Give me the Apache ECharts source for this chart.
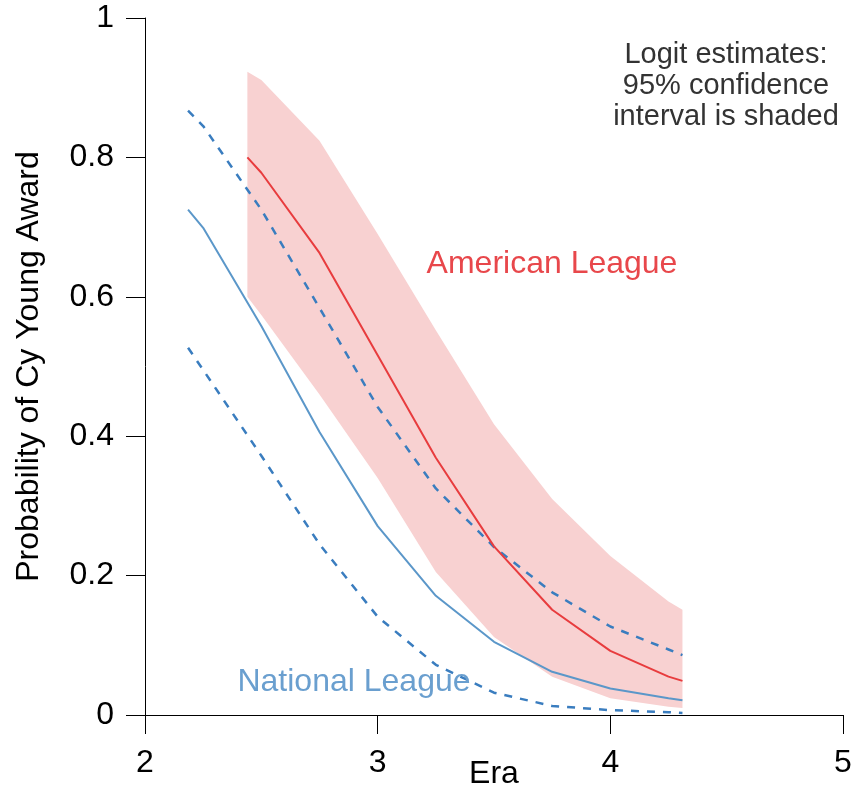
<!DOCTYPE html>
<html lang="en">
<head>
    <meta charset="UTF-8">
    <title>Cy Young Award probability by era</title>
    <script src="https://cdn.jsdelivr.net/npm/echarts@6/dist/echarts.min.js"></script>
    <style>
        html, body { margin: 0; padding: 0; background: #fff; }
        #chart { width: 854px; height: 790px; }
    </style>
</head>
<body>
<div id="chart"></div>

<script>
    // era values where the estimates were computed
    const nlEra = [2.185, 2.25, 2.5, 2.75, 3.0, 3.25, 3.5, 3.75, 4.0, 4.25, 4.31];
    const alEra = [2.44, 2.5, 2.75, 3.0, 3.25, 3.5, 3.75, 4.0, 4.25, 4.31];

    // National League: estimate + dashed bounds
    const nlMid = [0.725, 0.699, 0.558, 0.406, 0.271, 0.171, 0.105, 0.062, 0.038, 0.024, 0.021];
    const nlUpper = [0.867, 0.845, 0.725, 0.584, 0.442, 0.325, 0.241, 0.176, 0.127, 0.094, 0.086];
    const nlLower = [0.527, 0.495, 0.372, 0.245, 0.141, 0.072, 0.032, 0.013, 0.007, 0.004, 0.003];

    // American League: estimate + shaded band
    const alMid = [0.800, 0.778, 0.663, 0.516, 0.369, 0.242, 0.151, 0.092, 0.055, 0.049];
    const alUpper = [0.923, 0.911, 0.824, 0.690, 0.552, 0.417, 0.310, 0.228, 0.163, 0.151];
    const alLower = [0.600, 0.574, 0.460, 0.340, 0.205, 0.112, 0.055, 0.024, 0.012, 0.010];

    const xTicks = [2, 3, 4, 5];
    const yTicks = [0, 0.2, 0.4, 0.6, 0.8, 1];

    const font = "'Liberation Sans', Arial, sans-serif";

    function pairs(xs, ys) {
        return xs.map((x, i) => [x, ys[i]]);
    }

    // one row per era: [era, lower, upper] -> polygon via custom series
    const bandRows = alEra.map((x, i) => [x, alLower[i], alUpper[i]]);

    function renderBand(params, api) {
        if (params.dataIndex !== 0) return;
        const top = [], bottom = [];
        for (let i = 0; i < bandRows.length; i++) {
            top.push(api.coord([bandRows[i][0], bandRows[i][2]]));
            bottom.push(api.coord([bandRows[i][0], bandRows[i][1]]));
        }
        return {
            type: 'polygon',
            shape: {points: top.concat(bottom.reverse())},
            style: {fill: '#f8d1d1'},
            silent: true
        };
    }

    const axisCommon = {
        axisLine: {show: true, lineStyle: {color: '#000', width: 1}},
        axisTick: {show: true, length: 19, lineStyle: {color: '#000', width: 1}},
        splitLine: {show: false},
        nameMoveOverlap: false,
        nameTextStyle: {color: '#000', fontSize: 32, fontFamily: font}
    };

    const option = {
        animation: false,
        backgroundColor: '#fff',
        grid: {left: 145, right: 11, top: 18, bottom: 75, containLabel: false, outerBoundsMode: 'none'},
        xAxis: Object.assign({}, axisCommon, {
            type: 'value',
            min: xTicks[0],
            max: xTicks[xTicks.length - 1],
            interval: 1,
            name: 'Era',
            nameLocation: 'middle',
            nameGap: 43,
            axisLabel: {color: '#000', fontSize: 32, fontFamily: font, margin: 32}
        }),
        yAxis: Object.assign({}, axisCommon, {
            type: 'value',
            min: yTicks[0],
            max: yTicks[yTicks.length - 1],
            interval: 0.2,
            name: 'Probability of Cy Young Award',
            nameLocation: 'middle',
            nameGap: 100,
            axisLabel: {color: '#000', fontSize: 32, fontFamily: font, margin: 31}
        }),
        series: [
            {
                name: 'AL 95% band',
                type: 'custom',
                data: bandRows,
                encode: {x: 0, y: [1, 2]},
                renderItem: renderBand,
                clip: true,
                z: 1
            },
            {
                name: 'NL upper',
                type: 'line',
                data: pairs(nlEra, nlUpper),
                symbol: 'none',
                z: 3,
                lineStyle: {color: '#3a7dbf', width: 2.5, type: [8, 8]}
            },
            {
                name: 'NL lower',
                type: 'line',
                data: pairs(nlEra, nlLower),
                symbol: 'none',
                z: 3,
                lineStyle: {color: '#3a7dbf', width: 2.5, type: [8, 8]}
            },
            {
                name: 'National League',
                type: 'line',
                data: pairs(nlEra, nlMid),
                symbol: 'none',
                z: 3,
                lineStyle: {color: '#5b97c9', width: 2}
            },
            {
                name: 'American League',
                type: 'line',
                data: pairs(alEra, alMid),
                symbol: 'none',
                z: 4,
                lineStyle: {color: '#e83c3e', width: 2}
            }
        ],
        graphic: [
            {
                type: 'text', x: 552, y: 264, z: 10,
                style: {
                    text: 'American League', align: 'center', verticalAlign: 'middle',
                    fill: '#e8474b', font: '32px ' + font
                }
            },
            {
                type: 'text', x: 354, y: 682, z: 10,
                style: {
                    text: 'National League', align: 'center', verticalAlign: 'middle',
                    fill: '#6a9fcf', font: '32px ' + font
                }
            },
            {
                type: 'text', x: 726, y: 86, z: 10,
                style: {
                    text: 'Logit estimates:\n95% confidence\ninterval is shaded',
                    align: 'center', verticalAlign: 'middle', lineHeight: 31,
                    fill: '#333', font: '29px ' + font
                }
            }
        ]
    };

    const myChart = echarts.init(document.getElementById('chart'));
    myChart.setOption(option);
</script>
</body>
</html>
